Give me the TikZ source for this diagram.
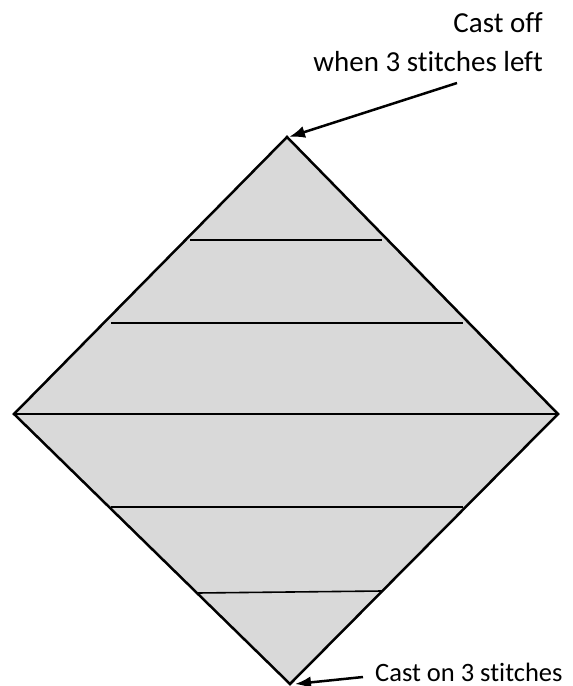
\documentclass[tikz,border=0pt]{standalone}
\usepackage{fontspec}
\setmainfont{Carlito}[Ligatures={NoCommon}]
\usetikzlibrary{arrows.meta}
\begin{document}
\begin{tikzpicture}[x=1pt,y=-1pt,
  outline/.style={draw=black,line width=2.5pt,line join=miter},
  row/.style={draw=black,line width=1.6pt},
  pointer/.style={draw=black,line width=2.5pt,-{Latex[length=16pt,width=12pt]}},
  lbl/.style={inner sep=0pt,text depth=0pt}]
\useasboundingbox (0,0) rectangle (573,686);
\coordinate (T) at (287,137);
\coordinate (L) at (14,414);
\coordinate (R) at (558,414);
\coordinate (B) at (290,684);
\fill[fill={rgb,255:red,217;green,217;blue,217}] (T) -- (R) -- (B) -- (L) -- cycle;
\draw[row] (190,240) coordinate (a1) -- (382,240) coordinate (a2);
\draw[row] (111,323) coordinate (b1) -- (463,323) coordinate (b2);
\draw[row] (111,507) coordinate (c1) -- (463,507) coordinate (c2);
\draw[row] (197,593) coordinate (d1) -- (382,591) coordinate (d2);
\draw[outline] (L) -- (R);
\draw[outline] (T) -- (R) -- (B) -- (L) -- cycle;
\node[lbl,anchor=south east,align=right,font=\fontsize{29}{39}\selectfont] (off) at (543,72) {Cast off\\when 3 stitches left};
\node[lbl,anchor=south west,font=\fontsize{26.5}{30}\selectfont] (on) at (375,682) {Cast on 3 stitches};
\coordinate (offtail) at (457,83);
\coordinate (ontail) at (363,677);
\draw[pointer] (offtail) -- (289,137);
\draw[pointer] (ontail) -- (295,684);
\end{tikzpicture}
\end{document}
